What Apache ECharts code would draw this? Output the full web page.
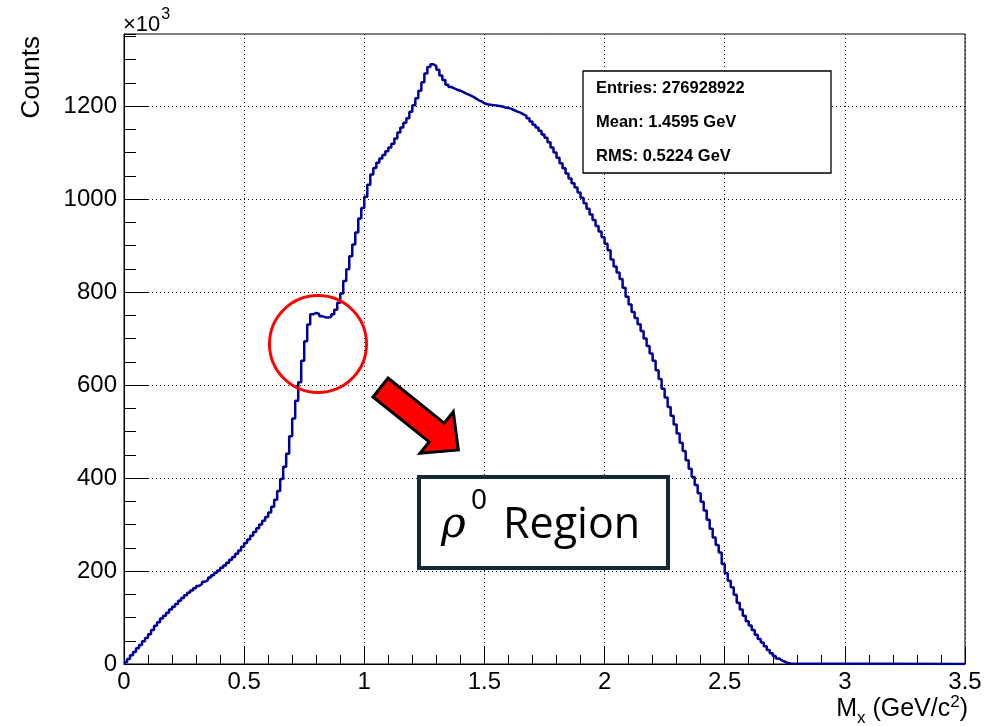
<!DOCTYPE html>
<html><head><meta charset="utf-8">
<script src="https://cdn.jsdelivr.net/npm/echarts@6/dist/echarts.min.js"></script>
<style>html,body{margin:0;padding:0;background:#fff}#c{width:996px;height:726px}</style>
</head><body><div id="c"></div>
<script>
// ---- data ----
const binLow = 0;
const binWidth = 0.0125;
const counts = [
  4,11,19,26,34,41,49,56,64,73,
  82,90,98,104,110,117,123,129,136,142,
  148,153,158,163,168,172,177,181,186,191,
  196,201,207,212,218,224,230,237,244,252,
  260,268,276,284,292,300,308,316,326,338,
  353,372,398,424,452,490,528,566,606,652,
  694,730,752,755,753,748,746,745,747,752,
  762,777,797,824,849,877,902,928,958,981,
  1005,1031,1053,1067,1078,1087,1095,1103,1111,1119,
  1130,1143,1154,1164,1174,1188,1202,1217,1233,1251,
  1270,1284,1290,1286,1278,1266,1256,1246,1241,1238,
  1235,1233,1230,1227,1224,1221,1217,1213,1210,1206,
  1204,1203,1202,1201,1200,1199,1197,1196,1194,1191,
  1188,1186,1182,1179,1174,1167,1160,1154,1147,1139,
  1132,1122,1111,1100,1089,1077,1066,1055,1044,1034,
  1025,1014,1003,991,979,967,955,942,930,918,
  904,890,870,855,842,828,809,790,773,757,
  744,731,716,700,684,668,652,632,613,592,
  573,553,534,515,496,476,458,438,420,402,
  385,367,349,330,310,291,272,256,240,215,
  195,179,165,149,132,117,104,92,83,73,
  63,54,46,38,30,23,17,12,8,5,
  2,1,0
];
const xRange = [0, 3.5];
const xTickStep = 0.5;
const yRange = [0, 1355];
const yTicks = [0, 200, 400, 600, 800, 1000, 1200];
const yMinorStep = 50;
const statsLines = ['Entries: 276928922', 'Mean: 1.4595 GeV', 'RMS: 0.5224 GeV'];

// ---- build ----
const data = counts.map((c, i) => [binLow + i * binWidth, c]);
data.push([xRange[1], 0]);

const ctx = document.createElement('canvas').getContext('2d');
function tw(t, font) { ctx.font = font; return ctx.measureText(t).width; }
function txt(text, x, baseline, size, family, opts) {
  opts = opts || {};
  const weight = opts.weight || 'normal';
  const style = opts.italic ? 'italic' : 'normal';
  const font = style + ' ' + weight + ' ' + size + 'px ' + family;
  return {
    type: 'text', z: 100, silent: true,
    x: x, y: baseline - 0.34 * size,
    style: {
      text: text, font: font, fill: opts.fill || '#000',
      textAlign: opts.align || 'left', align: opts.align || 'left',
      textVerticalAlign: 'middle', verticalAlign: 'middle'
    }
  };
}
const SANS = '"Liberation Sans", Arial, sans-serif';
const graphics = [];

// x10^3
graphics.push(txt('\u00d710', 123, 32, 22, SANS));
graphics.push(txt('3', 123 + tw('\u00d710', '22px ' + SANS) + 1, 20, 16, SANS));

// Counts (rotated)
graphics.push({
  type: 'text', z: 100, silent: true, x: 32, y: 36, rotation: Math.PI / 2,
  style: { text: 'Counts', font: '26px ' + SANS, fill: '#000',
    textAlign: 'right', align: 'right', textVerticalAlign: 'middle', verticalAlign: 'middle' }
});

// x axis title: M_x (GeV/c^2), right aligned
(function () {
  const big = 25, small = 17, base = 718;
  const pieces = [
    ['M', big, 0], ['x', small, 6], [' (GeV/c', big, 0], ['2', small, -10], [')', big, 0]
  ];
  let total = 0;
  pieces.forEach(p => { total += tw(p[0], p[1] + 'px ' + SANS); });
  let x = 968 - total;
  pieces.forEach(p => {
    graphics.push(txt(p[0], x, base + p[2], p[1], SANS));
    x += tw(p[0], p[1] + 'px ' + SANS);
  });
})();

// stats box
graphics.push({ type: 'rect', z: 90, silent: true,
  shape: { x: 583, y: 71, width: 248, height: 102 },
  style: { fill: '#fff', stroke: '#000', lineWidth: 1.3 } });
[94, 128.5, 162.5].forEach((b, i) => {
  graphics.push(txt(statsLines[i], 596, b, 16.5, SANS, { weight: 'bold' }));
});

// red circle
graphics.push({ type: 'circle', z: 95, silent: true,
  shape: { cx: 318, cy: 344, r: 48.5 },
  style: { fill: 'none', stroke: '#ff0000', lineWidth: 3 } });

// red arrow
graphics.push({ type: 'polygon', z: 95, silent: true,
  shape: { points: [[388, 378], [444.2, 423.1], [453.3, 411.7], [458.3, 450], [420, 453.3], [429.2, 441.9], [373, 397]] },
  style: { fill: '#ff0000', stroke: '#000', lineWidth: 3, lineJoin: 'miter' } });

// rho region box
graphics.push({ type: 'rect', z: 90, silent: true,
  shape: { x: 419, y: 477, width: 249, height: 91 },
  style: { fill: '#fff', stroke: '#12293a', lineWidth: 4 } });
graphics.push(txt('\u03c1', 441, 540, 42, '"DejaVu Serif", "Liberation Serif", serif', { italic: true }));
graphics.push(txt('0', 471, 511, 28, '"Noto Sans", "Open Sans", sans-serif'));
graphics.push(txt('Region', 503, 540, 43, '"Open Sans", sans-serif'));

const chart = echarts.init(document.getElementById('c'), null, { renderer: 'canvas' });
chart.setOption({
  animation: false,
  backgroundColor: '#fff',
  grid: { left: 124, right: 31, top: 34, bottom: 62, show: true, borderColor: '#000', borderWidth: 1, backgroundColor: 'transparent' },
  xAxis: {
    type: 'value', min: xRange[0], max: xRange[1], interval: xTickStep,
    axisLine: { show: true, onZero: false, lineStyle: { color: '#000', width: 1 } },
    axisTick: { show: true, inside: true, length: 17, lineStyle: { color: '#000', width: 1 } },
    minorTick: { show: true, splitNumber: 5, length: 9, lineStyle: { color: '#000', width: 1 } },
    axisLabel: { fontSize: 24, fontFamily: SANS, color: '#000', margin: 6, formatter: v => String(v) },
    splitLine: { show: true, lineStyle: { color: '#000', width: 1, type: [1, 3] } }
  },
  yAxis: [{
    type: 'value', min: yRange[0], max: yRange[1], interval: 200,
    axisLine: { show: true, onZero: false, lineStyle: { color: '#000', width: 1 } },
    axisTick: { show: true, inside: true, length: 25, customValues: yTicks, lineStyle: { color: '#000', width: 1 } },
    axisLabel: { fontSize: 24, fontFamily: SANS, color: '#000', margin: 7, customValues: yTicks, formatter: v => String(v) },
    splitLine: { show: true, lineStyle: { color: '#000', width: 1, type: [1, 3] } }
  }, {
    type: 'value', min: yRange[0], max: yRange[1], interval: yMinorStep, position: 'left', offset: 0,
    axisLine: { show: false },
    axisTick: { show: true, inside: true, length: 12, lineStyle: { color: '#000', width: 1 } },
    axisLabel: { show: false },
    splitLine: { show: false }
  }],
  series: [{
    type: 'line', step: 'end', data: data, showSymbol: false, symbol: 'none',
    xAxisIndex: 0, yAxisIndex: 0, z: 3,
    lineStyle: { color: '#000099', width: 2.5 }
  }],
  graphic: graphics
});
</script>
</body></html>
